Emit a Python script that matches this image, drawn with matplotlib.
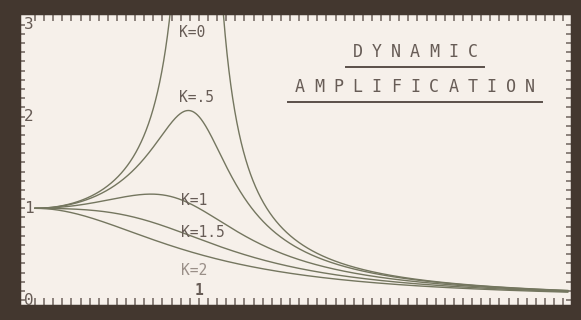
import numpy as np
import matplotlib.pyplot as plt

# damping parameter of each curve (K = 2 * damping ratio)
k_values = [0, 0.5, 1, 1.5, 2]
k_labels = ["K=0", "K=.5", "K=1", "K=1.5", "K=2"]
label_x = [0.88, 0.88, 0.89, 0.89, 0.89]
label_y = [2.91, 2.21, 1.08, 0.74, 0.32]
y_ticks = [0, 1, 2, 3]
x_ticks = [1]

title_lines = ["DYNAMIC", "AMPLIFICATION"]

# frequency ratio
r = np.linspace(0, 3.25, 2001)
r = r[np.abs(r - 1) > 1e-4]


def amplification(r, k):
    zeta = k / 2
    return 1 / np.sqrt((1 - r**2) ** 2 + (2 * zeta * r) ** 2)


bg = "#f6f0ea"
frame = "#43372f"
ink = "#675c56"
curve = "#74765f"

fig = plt.figure(figsize=(5.81, 3.2), dpi=100, facecolor=frame)
ax = fig.add_axes([0.032, 0.045, 0.953, 0.915])
ax.set_facecolor(bg)

for k in k_values:
    ax.plot(r, amplification(r, k), color=curve, lw=1.0)

for lab, lx, ly in zip(k_labels, label_x, label_y):
    c = "#9a8f88" if lab == "K=2" else ink
    ax.text(lx, ly, lab, family="DejaVu Sans Mono", fontsize=10.5,
            color=c, va="center", ha="left")

ax.set_xlim(-0.1, 3.245)
ax.set_ylim(-0.06, 3.13)

# tick marks on every side, pointing in
ax.set_xticks(np.arange(0, 3.3, 1 / 18), minor=True)
ax.set_yticks(np.arange(0, 3.1, 0.1), minor=True)
ax.set_xticks([])
ax.set_yticks([])
ax.tick_params(which="minor", direction="in", length=4, width=1.1,
               color="#6e625c", top=True, right=True,
               labelbottom=False, labelleft=False)
ax.tick_params(axis="x", which="minor", length=6)
for s in ax.spines.values():
    s.set_color(frame)
    s.set_linewidth(2.5)

# axis numbers written inside the plot area
for v in y_ticks:
    ax.text(-0.065, v, str(v), family="DejaVu Sans Mono", fontsize=11.5,
            color=ink, va="center", ha="left", zorder=5)
for v in x_ticks:
    ax.text(v, 0.1, str(v), family="DejaVu Sans Mono", fontsize=10.5,
            color=ink, va="center", ha="center", fontweight="bold")

# spaced-out title with underlines
step = 19.2
for i, (line, py) in enumerate(zip(title_lines, [52, 87])):
    n = len(line)
    x0 = 415 - step * (n - 1) / 2
    for j, ch in enumerate(line):
        fig.text((x0 + j * step) / 581, 1 - py / 320, ch,
                 family="DejaVu Sans Mono", fontsize=12, color=ink,
                 ha="center", va="center")
    half = step * n / 2 + 2
    uy = 1 - (py + 15) / 320
    fig.add_artist(plt.Line2D([(415 - half) / 581, (415 + half) / 581],
                              [uy, uy], color="#5a4f49", lw=1.4))

fig.savefig("out.png", dpi=100, facecolor=frame)
